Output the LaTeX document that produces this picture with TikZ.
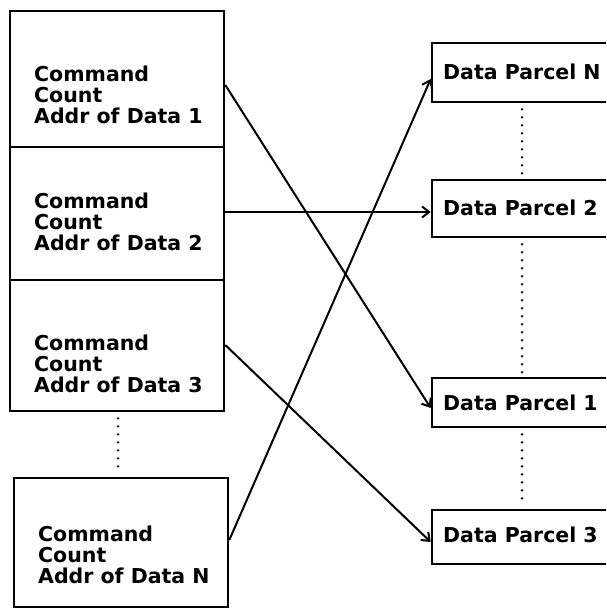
\documentclass[tikz,border=0pt]{standalone}
\usepackage{fontspec}
\setmainfont{DejaVu Sans}
\usetikzlibrary{arrows.meta}
\begin{document}
\begin{tikzpicture}[x=1pt,y=-1pt,
  frame/.style={draw, line width=2.6pt, inner sep=0pt},
  cmdbox/.style={frame, minimum width=214pt},
  parcel/.style={frame, minimum width=218pt},
  label/.style={inner sep=0pt, anchor=base west, align=left,
    font=\fontsize{20.5pt}{21pt}\selectfont\bfseries},
  link/.style={line width=2pt, -{Straight Barb[length=7pt,width=11pt,line width=2pt]}},
  dots/.style={line width=2.6pt, line cap=round, dash pattern=on 0pt off 8pt,
    shorten <=6pt, shorten >=4pt}]
\useasboundingbox (0,0) rectangle (606,610);
\clip (0,0) rectangle (606,610);

% command blocks
\node[cmdbox, minimum height=136pt] (b1) at (117,79) {};
\node[cmdbox, minimum height=133pt] (b2) at (117,213.5) {};
\node[cmdbox, minimum height=131pt] (b3) at (117,345.5) {};
\node[cmdbox, minimum height=129pt] (bN) at (121,542.5) {};

% each label is placed by the baseline of its last line
\node[label] (l1) at (34,123) {Command\\Count\\Addr of Data 1};
\node[label] (l2) at (34,250) {Command\\Count\\Addr of Data 2};
\node[label] (l3) at (34,392) {Command\\Count\\Addr of Data 3};
\node[label] (lN) at (38,583) {Command\\Count\\Addr of Data N};

% data parcels
\node[parcel, minimum height=59pt] (pN) at (541,72.5) {};
\node[parcel, minimum height=57pt] (p2) at (541,208.5) {};
\node[parcel, minimum height=49pt] (p1) at (541,402.5) {};
\node[parcel, minimum height=54pt] (p3) at (541,537) {};

\node[label] (qN) at (443,79) {Data Parcel N};
\node[label] (q2) at (443,215) {Data Parcel 2};
\node[label] (q1) at (443,410) {Data Parcel 1};
\node[label] (q3) at (443,542) {Data Parcel 3};

% elisions
\coordinate (lx) at (118,0);
\coordinate (rx) at (522,0);
\draw[dots] (lx |- b3.south) -- (lx |- bN.north);
\draw[dots] (rx |- pN.south) -- (rx |- p2.north);
\draw[dots] (rx |- p2.south) -- (rx |- p1.north);
\draw[dots] (rx |- p1.south) -- (rx |- p3.north);

% address pointers
\draw[link] ([yshift=-6pt]b1.east) -- ([yshift=-5.5pt]p1.west);
\draw[link] ([yshift=1.5pt]b2.east) -- ([yshift=-3.5pt]p2.west);
\draw[link] ([yshift=0.5pt]b3.east) -- ([yshift=-5pt]p3.west);
\draw[link] ([yshift=2.5pt]bN.east) -- ([yshift=-6.5pt]pN.west);
\end{tikzpicture}
\end{document}
